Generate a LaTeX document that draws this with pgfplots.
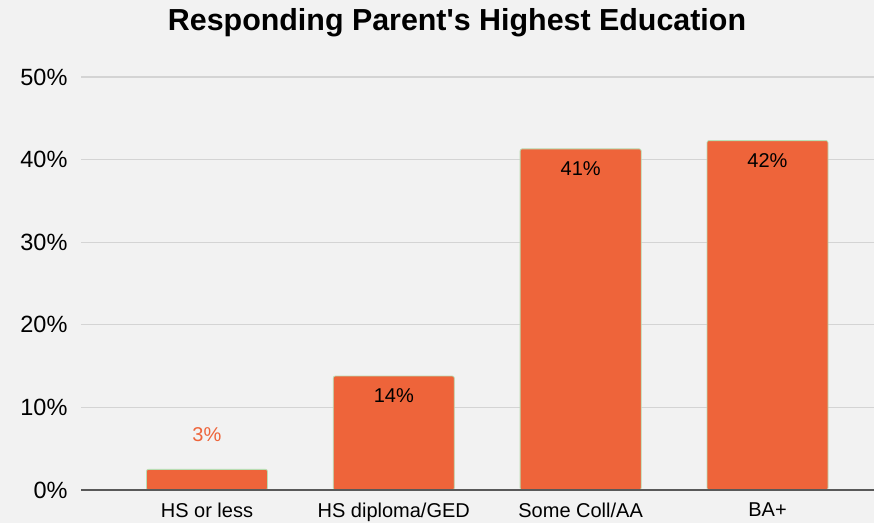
\documentclass[border=0pt]{standalone}
\usepackage{pgfplots}
\pgfplotsset{compat=1.18}
\usepackage{fontspec}
\setmainfont{Liberation Sans}
\definecolor{bg}{HTML}{F2F2F2}
\definecolor{barc}{HTML}{EE643A}
\definecolor{edgec}{HTML}{B9DDB3}
\definecolor{gridc}{HTML}{D4D4D4}
\begin{document}
\begin{tikzpicture}[x=1pt,y=1pt]
\fill[bg] (0,0) rectangle (874,523);
\node[font=\bfseries\fontsize{30.4}{34}\selectfont] at (457,500) {Responding Parent\textquotesingle s Highest Education};
\begin{axis}[
  at={(81pt,33pt)}, anchor=south west,
  scale only axis, width=793pt, height=413pt,
  xmin=-0.674, xmax=3.57, ymin=0, ymax=50,
  axis line style={draw=none},
  axis background/.style={fill=bg},
  ytick={0,10,20,30,40,50},
  yticklabel={\pgfmathprintnumber{\tick}\%},
  /pgf/number format/assume math mode=true,
  yticklabel style={font=\fontsize{23.5}{26}\selectfont, xshift=-10pt},
  xtick={0,1,2,3},
  xticklabels={HS or less, HS diploma/GED, Some Coll/AA, BA+},
  xticklabel style={font=\fontsize{20}{23}\selectfont, yshift=-9pt},
  major tick length=0pt,
  ymajorgrids, grid style={gridc, line width=1.2pt},
  clip=false,
  ybar, bar width=121pt,
]
\addplot[bar shift=0pt, fill=barc, draw=edgec, line width=0.8pt, rounded corners=2pt,
  point meta=explicit symbolic,
  nodes near coords,
  nodes near coords style={font=\fontsize{20}{23}\selectfont, text=barc, anchor=south, yshift=24pt}]
  coordinates {(0,2.5) [3\%]};
\addplot[bar shift=0pt, fill=barc, draw=edgec, line width=0.8pt, rounded corners=2pt,
  point meta=explicit symbolic,
  nodes near coords,
  nodes near coords style={font=\fontsize{20}{23}\selectfont, text=black, anchor=north, yshift=-9pt}]
  coordinates {(1,13.8) [14\%] (2,41.3) [41\%] (3,42.3) [42\%]};
\draw[black!65, line width=1.2pt] (axis cs:-0.674,0) -- (axis cs:3.57,0);
\end{axis}
\pgfresetboundingbox
\useasboundingbox (0,0) rectangle (874,523);
\end{tikzpicture}
\end{document}
